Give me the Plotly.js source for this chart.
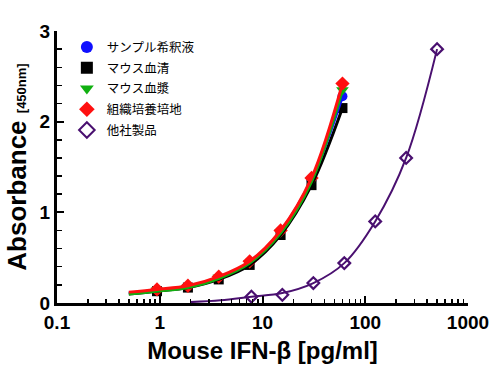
<!DOCTYPE html>
<html><head><meta charset="utf-8">
<script src="https://cdn.plot.ly/plotly-3.0.1.min.js"></script>
<style>body{margin:0;background:#fff}#c{width:500px;height:375px}</style>
</head><body><div id="c"></div>
<script>
// series names
const names = ['サンプル希釈液','マウス血清','マウス血漿','組織培養培地','他社製品'];
// measured points (pg/ml, absorbance)
const xStd = [0.94, 1.88, 3.75, 7.5, 15, 30, 60];
const ySample = [0.14, 0.18, 0.28, 0.45, 0.79, 1.36, 2.28];
const ySerum  = [0.13, 0.17, 0.26, 0.42, 0.75, 1.30, 2.15];
const yPlasma = [0.14, 0.18, 0.28, 0.44, 0.78, 1.35, 2.35];
const yMedium = [0.15, 0.19, 0.29, 0.46, 0.80, 1.38, 2.42];
const xOther = [7.8, 15.6, 31.25, 62.5, 125, 250, 500];
const yOther = [0.07, 0.09, 0.22, 0.44, 0.90, 1.60, 2.80];
// fitted curves
const xFit = [0.5, 0.94, 1.88, 3.75, 7.5, 15, 30, 60];
const fitSample = [0.11, 0.14, 0.18, 0.28, 0.45, 0.79, 1.36, 2.28];
const fitSerum  = [0.10, 0.13, 0.17, 0.26, 0.42, 0.75, 1.30, 2.15];
const fitPlasma = [0.10, 0.13, 0.17, 0.27, 0.44, 0.77, 1.34, 2.35];
const fitMedium = [0.12, 0.15, 0.19, 0.29, 0.46, 0.80, 1.38, 2.42];
const xFitOther = [2, 3.9, 7.8, 15.6, 31.25, 62.5, 125, 250, 500];
const fitOther  = [0.01, 0.03, 0.07, 0.11, 0.22, 0.44, 0.90, 1.60, 2.80];
const xTicks = [0.1, 1, 10, 100, 1000];
const xTickText = ['0.1','1','10','100','1000'];

const cols = ['#1010ff','#000000','#10b010','#ff1010','#4a1070'];
const syms = ['circle','square','triangle-down','diamond','diamond-open'];
const sizes = [10, 10, 11, 11];
const ptsY = [ySample, ySerum, yPlasma, yMedium];
const fitY = [fitSample, fitSerum, fitPlasma, fitMedium];

const traces = [];
for (let i=0;i<4;i++){
  traces.push({x:xStd, y:ptsY[i], type:'scatter', mode:'markers', name:names[i], legendgroup:'g'+i,
    marker:{color:cols[i], symbol:syms[i], size:sizes[i], line:{width:0}}});
}
traces.push({x:xOther, y:yOther, type:'scatter', mode:'markers', name:names[4], legendgroup:'g4',
  marker:{color:cols[4], symbol:'diamond-open', size:9, line:{width:2.2, color:cols[4]}}});
const lineOrder = [1,0,2,3];
for (const i of lineOrder){
  traces.push({x:xFit, y:fitY[i], type:'scatter', mode:'lines', showlegend:false, legendgroup:'g'+i,
    line:{color:cols[i], width:3, shape:'spline'}, hoverinfo:'skip'});
}
traces.push({x:xFitOther, y:fitOther, type:'scatter', mode:'lines', showlegend:false, legendgroup:'g4',
  line:{color:cols[4], width:2, shape:'spline'}, hoverinfo:'skip'});

const layout = {
  width:500, height:375,
  margin:{l:57, r:32, t:31, b:72},
  paper_bgcolor:'#fff', plot_bgcolor:'#fff',
  font:{family:'Liberation Sans, Arial, sans-serif', color:'#000'},
  showlegend:true,
  legend:{x:0.024, y:0.995, xanchor:'left', yanchor:'top', bgcolor:'rgba(0,0,0,0)',
    font:{family:'"Noto Sans CJK JP", sans-serif', size:12.5, color:'#000'},
    traceorder:'grouped', tracegroupgap:1.5, itemsizing:'constant'},
  xaxis:{type:'log', range:[-1,3], tickvals:xTicks, ticktext:xTickText,
    showline:true, linewidth:3, linecolor:'#000', mirror:false, showgrid:false, zeroline:false,
    ticks:'inside', ticklen:7, tickwidth:2, tickcolor:'#000',
    tickfont:{size:19, family:'Liberation Sans, Arial', weight:'bold'},
    minor:{ticks:'inside', ticklen:4, tickwidth:1.5, tickcolor:'#000', dtick:'D1', showgrid:false},
    title:{text:'<b>Mouse IFN-β [pg/ml]</b>', font:{size:24, family:'Liberation Sans, Arial'}, standoff:11}},
  yaxis:{range:[0,3], tickvals:[0,1,2,3], showline:true, linewidth:3, linecolor:'#000',
    showgrid:false, zeroline:false, ticks:'inside', ticklen:7, tickwidth:2, tickcolor:'#000',
    tickfont:{size:19, family:'Liberation Sans, Arial', weight:'bold'},
    minor:{ticks:'inside', ticklen:5, tickwidth:1.5, tickcolor:'#000', dtick:0.2, showgrid:false},
    title:{text:'<b>Absorbance</b> <span style="font-size:13px"><b>[450nm]</b></span>', font:{size:26, family:'Liberation Sans, Arial'}, standoff:6}}
};
Plotly.newPlot('c', traces, layout, {displayModeBar:false, staticPlot:true});
</script></body></html>
